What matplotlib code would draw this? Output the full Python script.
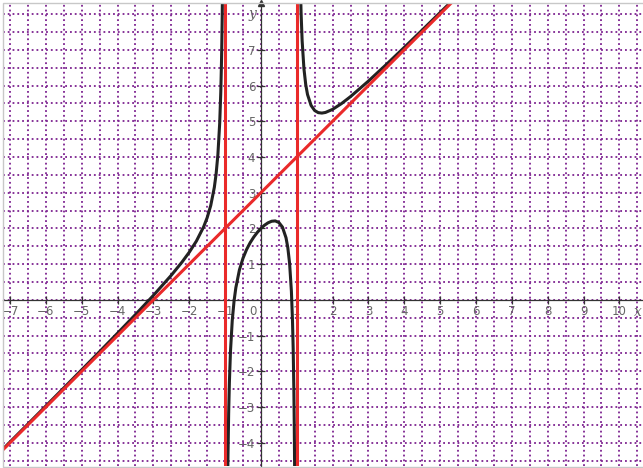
# -*- coding: utf-8 -*-
import matplotlib
matplotlib.use('Agg')
import matplotlib.pyplot as plt
import matplotlib.ticker as ticker
from matplotlib.patches import Rectangle

# values, one list per branch of the curve
left_x = [-7.2, -6.5, -6.0, -5.5, -5.0, -4.5, -4.0, -3.5, -3.0, -2.5, -2.2, -2.0,
          -1.8, -1.6, -1.5, -1.4, -1.3, -1.25, -1.2, -1.15, -1.12, -1.1, -1.09, -1.08, -1.07]
left_y = [-4.18, -3.476, -2.971, -2.466, -1.958, -1.448, -0.933, -0.411, 0.125, 0.690, 1.060, 1.333,
          1.646, 2.041, 2.3, 2.642, 3.149, 3.528, 4.073, 4.951, 5.811, 6.662, 7.226, 7.930, 8.831]

mid_x = [-0.95, -0.93, -0.92, -0.9, -0.88, -0.85, -0.8, -0.75, -0.7, -0.6, -0.5, -0.4, -0.3, -0.2, -0.1,
         0.0, 0.1, 0.2, 0.3, 0.4, 0.5, 0.6, 0.7, 0.75, 0.8, 0.85, 0.88, 0.9, 0.92, 0.93, 0.94, 0.95]
mid_y = [-8.21, -5.332, -4.430, -3.163, -2.313, -1.454, -0.578, -0.036, 0.339, 0.838, 1.167, 1.410, 1.601, 1.758, 1.890,
         2.0, 2.090, 2.158, 2.201, 2.210, 2.167, 2.038, 1.739, 1.464, 1.022, 0.246, -0.553, -1.363, -2.590, -3.472, -4.651, -6.306]

right_x = [1.08, 1.1, 1.12, 1.15, 1.2, 1.25, 1.3, 1.4, 1.5, 1.6, 1.7, 1.8, 2.0, 2.25, 2.5,
           3.0, 3.5, 4.0, 4.5, 5.0, 5.5]
right_y = [10.09, 8.862, 8.051, 7.251, 6.473, 6.028, 5.749, 5.442, 5.3, 5.241, 5.229, 5.246, 5.333, 5.496, 5.690,
           6.125, 6.589, 7.067, 7.552, 8.042, 8.534]

# asymptotes
vert_asym = [-1, 1]
obl_x = [-7.5, 6.0]
obl_y = [-4.5, 9.0]

xticks = [-7, -6, -5, -4, -3, -2, -1, 1, 2, 3, 4, 5, 6, 7, 8, 9, 10]
yticks = [-4, -3, -2, -1, 1, 2, 3, 4, 5, 6, 7]

purple = '#7d2290'
grey = '#666666'
red = '#ea2a2a'

fig = plt.figure(figsize=(6.43, 4.68), dpi=100)
ax = fig.add_axes([3/643, 2/468, 640/643, 463/468])
ax.set_xlim(-7.196, 10.66)
ax.set_ylim(-4.65, 8.31)

ax.xaxis.set_minor_locator(ticker.MultipleLocator(0.5))
ax.yaxis.set_minor_locator(ticker.MultipleLocator(0.5))
ax.set_xticks(xticks)
ax.set_xticklabels([str(v).replace('-', '\u2212') for v in xticks])
ax.set_yticks(yticks)
ax.set_yticklabels([str(v).replace('-', '\u2212') for v in yticks])
ax.grid(which='both', color=purple, linestyle=':', linewidth=1.3, zorder=0)
ax.set_axisbelow(True)

for s in ['top', 'right']:
    ax.spines[s].set_visible(False)
ax.spines['left'].set_position(('data', 0))
ax.spines['bottom'].set_position(('data', 0))
ax.spines['left'].set_color('#333333')
ax.spines['bottom'].set_color('#333333')
ax.spines['left'].set_linewidth(0.9)
ax.spines['bottom'].set_linewidth(0.9)
ax.tick_params(which='major', direction='inout', length=6, width=0.9, color='#333333',
               labelsize=8.5, labelcolor=grey, pad=1)
ax.tick_params(which='minor', length=0)

ax.text(-0.12, -0.13, '0', color=grey, fontsize=8.5, ha='right', va='top')
ax.text(-0.12, 8.0, 'y', color=grey, fontsize=10, style='italic', family='DejaVu Serif',
        ha='right', va='center')
ax.text(10.42, -0.15, 'x', color=grey, fontsize=10, style='italic', family='DejaVu Serif',
        ha='left', va='top')
ax.plot([0], [8.31], marker='^', color='#333333', markersize=5, clip_on=False)

ax.plot(left_x, left_y, color='#222222', linewidth=2.2, zorder=3)
ax.plot(mid_x, mid_y, color='#222222', linewidth=2.2, zorder=3)
ax.plot(right_x, right_y, color='#222222', linewidth=2.2, zorder=3)

for xv in vert_asym:
    ax.axvline(xv, color=red, linewidth=2.2, zorder=4)
ax.plot(obl_x, obl_y, color=red, linewidth=2.2, zorder=4)

fig.add_artist(Rectangle((2.5/643, 1.5/468), 641/643, 464/468, transform=fig.transFigure,
                         fill=False, edgecolor='#c8c8c8', linewidth=1))

fig.savefig('out.png', dpi=100)
